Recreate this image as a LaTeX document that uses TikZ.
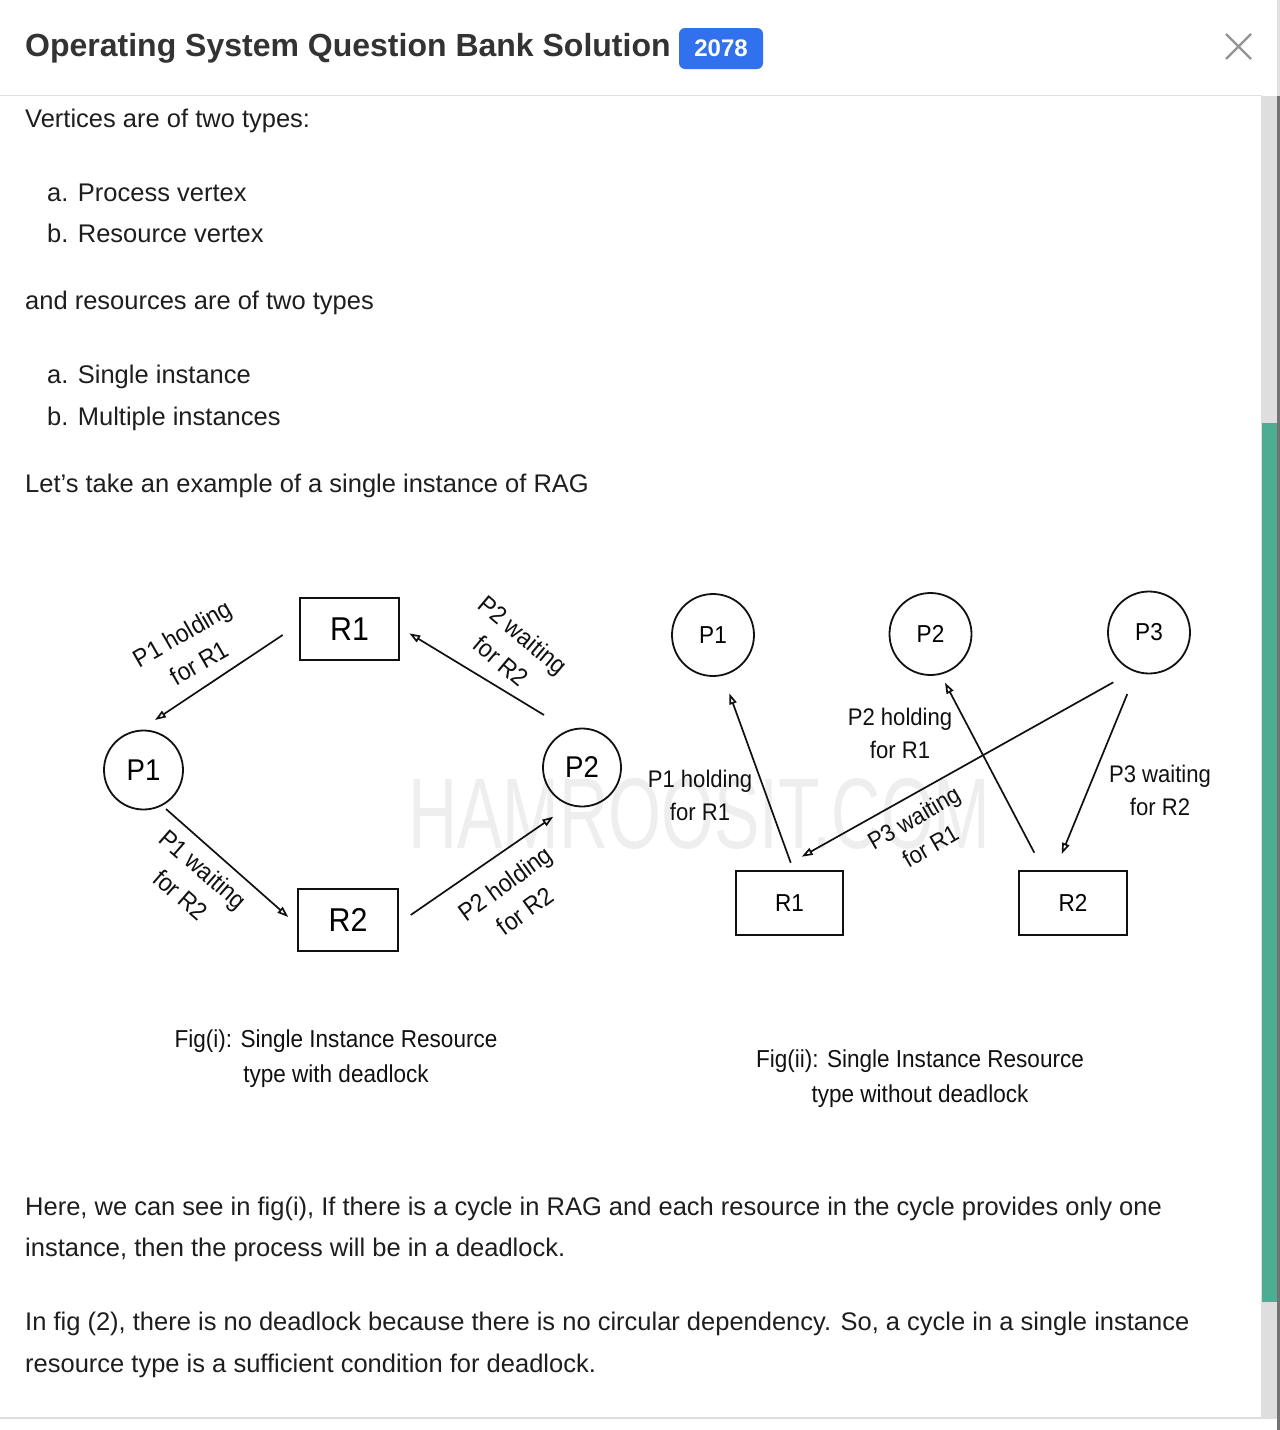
\documentclass[tikz,border=0pt]{standalone}
\usepackage{fontspec}
\setmainfont{Liberation Sans}
\newfontfamily\dfont[FakeStretch=0.92]{Liberation Sans}
\usepackage{graphicx}
\usetikzlibrary{arrows.meta}
\definecolor{txt}{HTML}{1E1E1E}
\definecolor{ttl}{HTML}{333333}
\definecolor{badge}{RGB}{49,113,237}
\definecolor{wm}{HTML}{EEEEEE}
\definecolor{thumb}{RGB}{78,172,146}
\definecolor{track}{HTML}{DEDEDE}
\definecolor{ink}{HTML}{111111}
\begin{document}
\begin{tikzpicture}[x=1pt,y=-1pt,
  body/.style={anchor=base west, inner sep=0pt, text=txt, font=\fontsize{25.5pt}{30pt}\selectfont},
  proc/.style={draw=ink, circle, line width=1.8pt, inner sep=0pt},
  res/.style={draw=ink, rectangle, line width=1.8pt, inner sep=0pt},
  lab/.style={align=center, inner sep=0pt, text=ink, font=\dfont\fontsize{24pt}{33pt}\selectfont},
  labi/.style={align=center, inner sep=0pt, text=ink, font=\dfont\fontsize{25pt}{34pt}\selectfont},
  capt/.style={align=center, inner sep=0pt, text=ink, font=\dfont\fontsize{24.5pt}{35pt}\selectfont},
  conn/.style={draw=ink, line width=1.7pt, -{Triangle[open,length=11pt,width=7.5pt]}}]
\useasboundingbox (0,0) rectangle (1280,1430);
\fill[white] (0,0) rectangle (1280,1430);

% header
\node[anchor=base west, inner sep=0pt, text=ttl, font=\bfseries\fontsize{32pt}{36pt}\selectfont] (title) at (25,56) {Operating System Question Bank Solution};
\fill[badge, rounded corners=6pt] (679,28) rectangle (763,69);
\node[text=white, inner sep=0pt, font=\bfseries\fontsize{24pt}{26pt}\selectfont] (yr) at (721,48.5) {2078};
\coordinate (x1) at (1226,34); \coordinate (x2) at (1251,59);
\coordinate (x3) at (1251,34); \coordinate (x4) at (1226,59);
\draw[color=gray!85, line width=2.2pt] (x1) -- (x2) (x3) -- (x4);
\draw[color=black!12, line width=1.2pt] (0,95.5) -- (1262,95.5);

% scrollbar and right edge
\fill[track] (1261,96) rectangle (1277,1418);
\fill[thumb] (1262,423) rectangle (1277,1302);
\fill[black!55] (1277,96) rectangle (1280,1430);
\fill[black!12] (1277,0) rectangle (1280,96);
\draw[color=black!13, line width=1.5pt] (0,1418) -- (1277,1418);

% body text
\node[body] (t1) at (25,127) {Vertices are of two types:};
\node[body] (t2) at (47,201) {a. Process vertex};
\node[body] (t3) at (47,242) {b. Resource vertex};
\node[body] (t4) at (25,309) {and resources are of two types};
\node[body] (t5) at (47,383) {a. Single instance};
\node[body] (t6) at (47,425) {b. Multiple instances};
\node[body] (t7) at (25,492) {Let’s take an example of a single instance of RAG};
\node[body] (t8) at (25,1215) {Here, we can see in fig(i), If there is a cycle in RAG and each resource in the cycle provides only one};
\node[body] (t9) at (25,1256) {instance, then the process will be in a deadlock.};
\node[body] (t10) at (25,1330) {In fig (2), there is no deadlock because there is no circular dependency. So, a cycle in a single instance};
\node[body] (t11) at (25,1372) {resource type is a sufficient condition for deadlock.};

% watermark
\node[anchor=south west, inner sep=0pt, text=wm] (wmark) at (408,850) {\resizebox{582pt}{70pt}{HAMROOSIT.COM}};

% ---- Fig (i)
\node[res, minimum width=99pt, minimum height=62pt, font=\dfont\fontsize{33pt}{36pt}\selectfont] (AR1) at (349.5,629) {R1};
\node[res, minimum width=100pt, minimum height=62pt, font=\dfont\fontsize{33pt}{36pt}\selectfont] (AR2) at (348,920) {R2};
\node[proc, minimum size=79pt, font=\dfont\fontsize{30pt}{34pt}\selectfont] (AP1) at (143.5,770) {P1};
\node[proc, minimum size=78pt, font=\dfont\fontsize{30pt}{34pt}\selectfont] (AP2) at (582,767.5) {P2};

\coordinate (a1s) at (282.7,635);  \coordinate (a1e) at (155,720);
\coordinate (a2s) at (166,809);    \coordinate (a2e) at (288.3,917);
\coordinate (a3s) at (410.7,915);  \coordinate (a3e) at (553.3,816.7);
\coordinate (a4s) at (544,715);    \coordinate (a4e) at (409.3,633.3);
\draw[conn] (a1s) -- (a1e);
\draw[conn] (a2s) -- (a2e);
\draw[conn] (a3s) -- (a3e);
\draw[conn] (a4s) -- (a4e);

\node[labi, rotate=30] (L1) at (191,648) {P1 holding\\for R1};
\node[labi, rotate=-41] (L2) at (192,882) {P1 waiting\\for R2};
\node[labi, rotate=-40] (L3) at (512,648) {P2 waiting\\for R2};
\node[labi, rotate=36] (L4) at (515,897) {P2 holding\\for R2};

\node[capt] (C1) at (336,1058.5) {Fig(i): Single Instance Resource\\type with deadlock};

% ---- Fig (ii)
\node[proc, minimum size=82pt, font=\dfont\fontsize{24.5pt}{28pt}\selectfont] (BP1) at (713,635) {P1};
\node[proc, minimum size=82pt, font=\dfont\fontsize{24.5pt}{28pt}\selectfont] (BP2) at (930.5,634) {P2};
\node[proc, minimum size=82pt, font=\dfont\fontsize{24.5pt}{28pt}\selectfont] (BP3) at (1149,632.5) {P3};
\node[res, minimum width=107pt, minimum height=64pt, font=\dfont\fontsize{24.5pt}{28pt}\selectfont] (BR1) at (789.5,903) {R1};
\node[res, minimum width=108pt, minimum height=64pt, font=\dfont\fontsize{24.5pt}{28pt}\selectfont] (BR2) at (1073,903) {R2};

\coordinate (b1s) at (790.7,862.7);  \coordinate (b1e) at (729.3,693.3);
\coordinate (b2s) at (1034.3,852.7); \coordinate (b2e) at (945,682.7);
\coordinate (b3s) at (1113.3,682.3); \coordinate (b3e) at (801.7,856.7);
\coordinate (b4s) at (1127.3,694);   \coordinate (b4e) at (1061.7,854);
\draw[conn] (b1s) -- (b1e);
\draw[conn] (b2s) -- (b2e);
\draw[conn] (b3s) -- (b3e);
\draw[conn] (b4s) -- (b4e);

\node[lab] (M1) at (700,795) {P1 holding\\for R1};
\node[lab] (M2) at (900,733) {P2 holding\\for R1};
\node[lab] (M3) at (1160,790) {P3 waiting\\for R2};
\node[lab, rotate=30] (M4) at (922,832) {P3 waiting\\for R1};

\node[capt] (C2) at (920,1078.5) {Fig(ii): Single Instance Resource\\type without deadlock};
\end{tikzpicture}
\end{document}
